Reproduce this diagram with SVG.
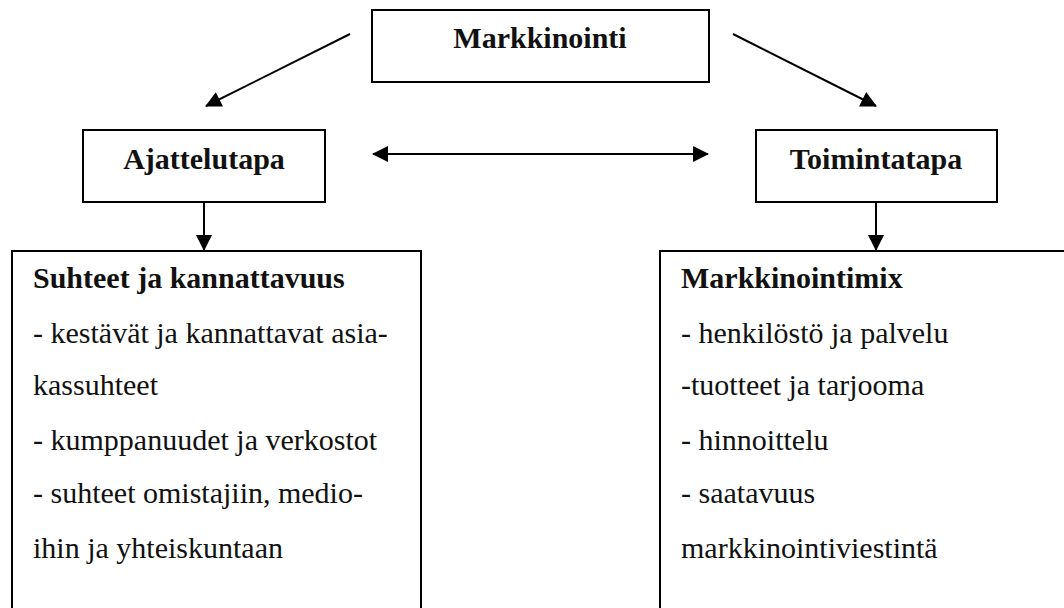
<svg xmlns="http://www.w3.org/2000/svg" width="1064" height="608" viewBox="0 0 1064 608">
<style>
.box{fill:#fff;stroke:#000;stroke-width:2}
.t{font-family:"Liberation Serif","Times New Roman",serif;font-size:30px;fill:#111}
.b{font-weight:bold}
.c{stroke:#000;stroke-width:2;fill:none}
</style>
<defs>
<marker id="ah" viewBox="0 0 16 16" refX="15" refY="8" markerWidth="16" markerHeight="16" markerUnits="userSpaceOnUse" orient="auto-start-reverse">
<path d="M0,0 L16,8 L0,16 Z" fill="#000"/>
</marker>
</defs>
<rect width="1064" height="608" fill="#fff"/>
<g id="connectors">
<line class="c" x1="350" y1="34" x2="206" y2="106" marker-end="url(#ah)"/>
<line class="c" x1="733" y1="34" x2="876" y2="106" marker-end="url(#ah)"/>
<line class="c" x1="373" y1="154" x2="708" y2="154" marker-start="url(#ah)" marker-end="url(#ah)"/>
<line class="c" x1="204" y1="202" x2="204" y2="250" marker-end="url(#ah)"/>
<line class="c" x1="876" y1="202" x2="876" y2="250" marker-end="url(#ah)"/>
</g>
<g id="markkinointi">
<rect class="box" x="372" y="10" width="337" height="72"/>
<text class="t b" x="540" y="48" text-anchor="middle">Markkinointi</text>
</g>
<g id="ajattelutapa">
<rect class="box" x="83" y="130" width="242" height="72"/>
<text class="t b" x="204" y="169" text-anchor="middle">Ajattelutapa</text>
</g>
<g id="toimintatapa">
<rect class="box" x="756" y="130" width="241" height="72"/>
<text class="t b" x="876" y="169" text-anchor="middle">Toimintatapa</text>
</g>
<g id="suhteet">
<rect class="box" x="12" y="251" width="409" height="380"/>
<text class="t b" x="33" y="288">Suhteet ja kannattavuus</text>
<text class="t" x="33" y="343">- kestävät ja kannattavat asia-</text>
<text class="t" x="33" y="395">kassuhteet</text>
<text class="t" x="33" y="450">- kumppanuudet ja verkostot</text>
<text class="t" x="33" y="503">- suhteet omistajiin, medio-</text>
<text class="t" x="33" y="558">ihin ja yhteiskuntaan</text>
</g>
<g id="markkinointimix">
<rect class="box" x="660" y="251" width="420" height="380"/>
<text class="t b" x="681" y="288">Markkinointimix</text>
<text class="t" x="681" y="343">- henkilöstö ja palvelu</text>
<text class="t" x="681" y="395">-tuotteet ja tarjooma</text>
<text class="t" x="681" y="450">- hinnoittelu</text>
<text class="t" x="681" y="503">- saatavuus</text>
<text class="t" x="681" y="558">markkinointiviestintä</text>
</g>
</svg>
